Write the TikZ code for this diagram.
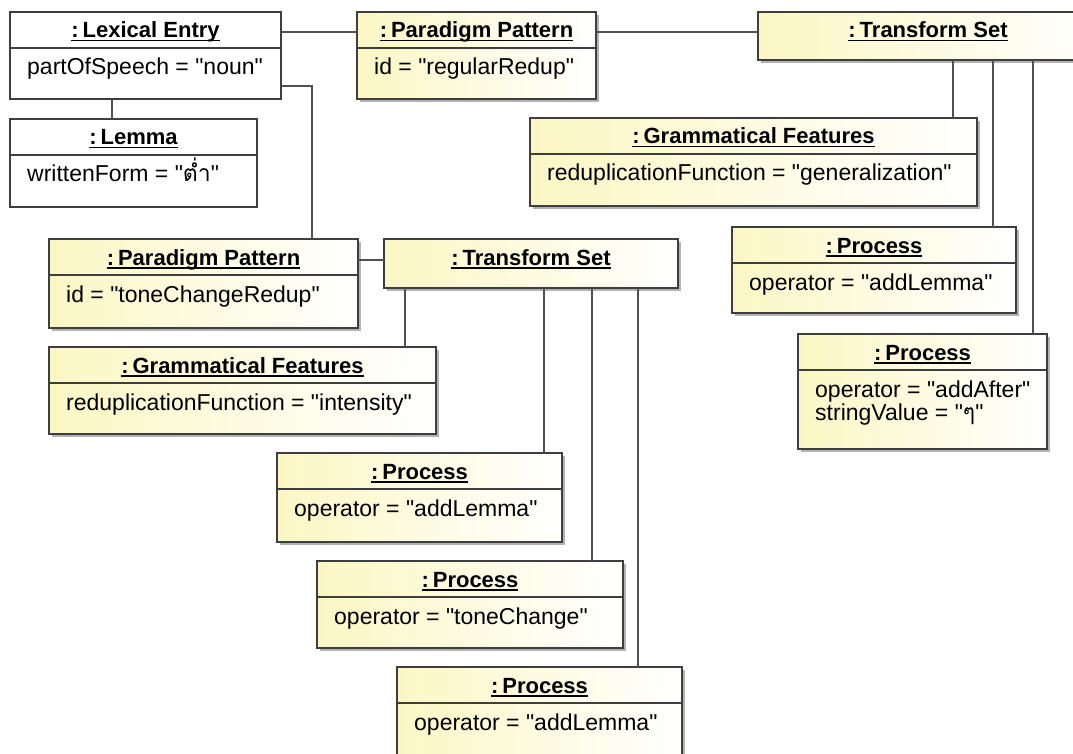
\documentclass[tikz,border=0pt]{standalone}
\usepackage{fontspec}
\setmainfont{Liberation Sans}[Ligatures=TeXOff]
\newfontfamily\thaifont[Script=Thai]{Loma}
\usetikzlibrary{shadows}

\definecolor{boxline}{RGB}{62,62,62}
\definecolor{wireline}{RGB}{80,80,80}
\definecolor{paleyellow}{RGB}{251,247,196}

% bold, underlined object name, preceded by a tight colon
\newcommand\objtitle[1]{\setbox0\hbox{\bfseries :\kern4pt #1}\rlap{\rule[-3.5pt]{\wd0}{1.6pt}}\box0}

\tikzset{
  objbox/.style={draw=boxline, line width=1.6pt, rectangle, anchor=north west,
    inner sep=0pt, outer sep=0pt},
  plainobj/.style={objbox, fill=white},
  shadedobj/.style={objbox, left color=paleyellow, right color=white,
    drop shadow={shadow xshift=3pt, shadow yshift=-3pt, fill=black!55, opacity=0.55}},
  titletext/.style={anchor=base, inner sep=0pt, font=\fontsize{22}{26}\selectfont},
  attrtext/.style={anchor=base west, inner sep=0pt, font=\fontsize{23}{23}\selectfont},
  divider/.style={draw=boxline, line width=1.3pt},
  wire/.style={draw=wireline, line width=1.3pt},
}

% object with a name compartment and an attribute compartment
% #1 name, #2 x, #3 y, #4 width, #5 height, #6 style, #7 title, #8 attribute
\newcommand\umlobj[8]{%
  \node[#6, minimum width=#4pt, minimum height=#5pt] (#1) at (#2,#3) {};
  \draw[divider] ([yshift=-36pt]#1.north west) -- ([yshift=-36pt]#1.north east);
  \node[titletext] (#1-t) at ([yshift=-26pt]#1.north) {\objtitle{#7}};
  \node[attrtext] (#1-a) at ([xshift=17pt,yshift=-63pt]#1.north west) {#8};
}
% object with a name compartment only
\newcommand\umlhead[7]{%
  \node[#6, minimum width=#4pt, minimum height=#5pt] (#1) at (#2,#3) {};
  \node[titletext] (#1-t) at ([yshift=-26pt]#1.north) {\objtitle{#7}};
}

\begin{document}
\begin{tikzpicture}[x=1pt, y=-1pt]
  \useasboundingbox (0,0) rectangle (1073,754);
  \clip (0,0) rectangle (1073,754);
  \fill[white] (0,0) rectangle (1073,754);

  % reference points for connector routing
  \coordinate (row32) at (0,32);
  \coordinate (row260) at (0,260);
  \coordinate (bend) at (312,86);
  \coordinate (col112) at (112,0);
  \coordinate (col953) at (953,0);
  \coordinate (col993) at (993,0);
  \coordinate (col1033) at (1033,0);
  \coordinate (col405) at (405,0);
  \coordinate (col544) at (544,0);
  \coordinate (col592) at (592,0);
  \coordinate (col638) at (638,0);

  % objects
  \umlobj{le}{10}{12}{271}{87}{plainobj}{Lexical Entry}{partOfSpeech = "noun"}
  \umlobj{lm}{10}{119}{247}{88}{plainobj}{Lemma}{writtenForm = "{\thaifont ต่ำ}"}
  \umlobj{pp1}{357}{12}{239}{87}{shadedobj}{Paradigm Pattern}{id = "regularRedup"}
  \umlhead{ts1}{758}{12}{340}{48}{shadedobj}{Transform Set}
  \umlobj{gf1}{530}{118}{447}{88}{shadedobj}{Grammatical Features}{reduplicationFunction = "generalization"}
  \umlobj{pr1}{732}{227}{284}{86}{shadedobj}{Process}{operator = "addLemma"}
  \umlobj{pr2}{798}{334}{249}{115}{shadedobj}{Process}{operator = "addAfter"}
  \node[attrtext] (pr2-b) at ([yshift=-23pt]pr2-a.base west) {stringValue = "{\thaifont ๆ}"};
  \umlobj{pp2}{49}{239}{309}{89}{shadedobj}{Paradigm Pattern}{id = "toneChangeRedup"}
  \umlhead{ts2}{384}{239}{294}{49}{shadedobj}{Transform Set}
  \umlobj{gf2}{49}{347}{387}{87}{shadedobj}{Grammatical Features}{reduplicationFunction = "intensity"}
  \umlobj{pr3}{277}{453}{285}{89}{shadedobj}{Process}{operator = "addLemma"}
  \umlobj{pr4}{317}{561}{306}{87}{shadedobj}{Process}{operator = "toneChange"}
  \umlobj{pr5}{397}{667}{285}{110}{shadedobj}{Process}{operator = "addLemma"}

  % links
  \draw[wire] (le.south -| col112) -- (lm.north -| col112);
  \draw[wire] (le.east |- row32) -- (pp1.west |- row32);
  \draw[wire] (pp1.east |- row32) -- (ts1.west |- row32);
  \draw[wire] (le.east |- bend) -| (pp2.north -| bend);
  \draw[wire] (pp2.east |- row260) -- (ts2.west |- row260);
  \draw[wire] (ts1.south -| col953) -- (gf1.north -| col953);
  \draw[wire] (ts1.south -| col993) -- (pr1.north -| col993);
  \draw[wire] (ts1.south -| col1033) -- (pr2.north -| col1033);
  \draw[wire] (ts2.south -| col405) -- (gf2.north -| col405);
  \draw[wire] (ts2.south -| col544) -- (pr3.north -| col544);
  \draw[wire] (ts2.south -| col592) -- (pr4.north -| col592);
  \draw[wire] (ts2.south -| col638) -- (pr5.north -| col638);
\end{tikzpicture}
\end{document}
